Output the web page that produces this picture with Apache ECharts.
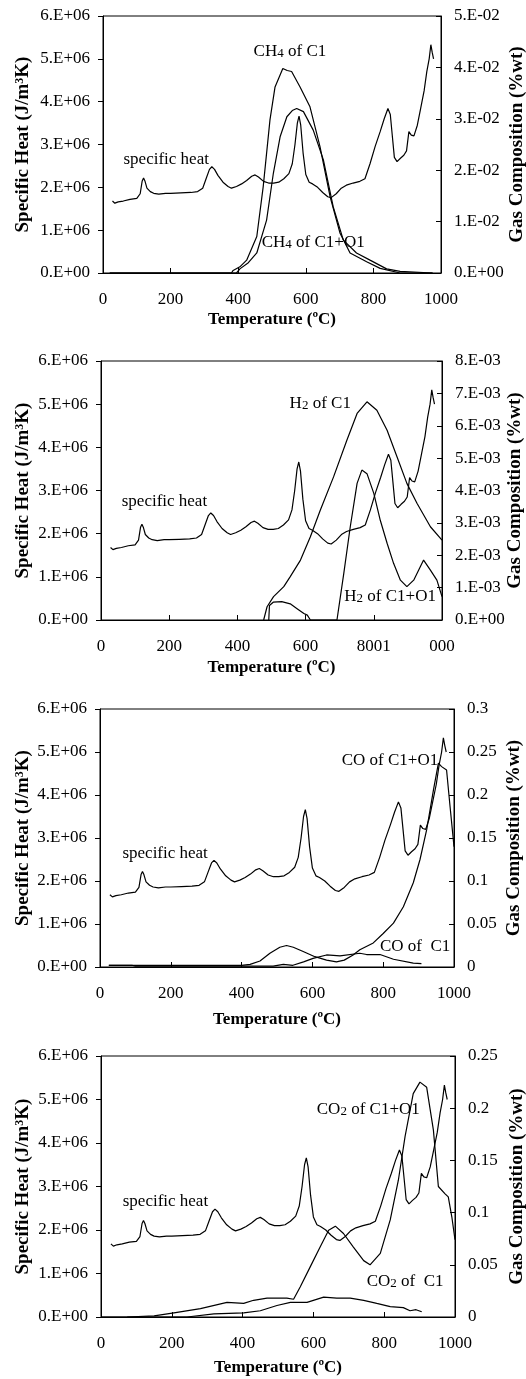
<!DOCTYPE html>
<html>
<head>
<meta charset="utf-8">
<script src="https://cdn.jsdelivr.net/npm/echarts@6/dist/echarts.min.js"></script>
<style>
html, body { margin: 0; background: #fff; }
#chart { width: 526px; height: 1379px; }
</style>
</head>
<body>
<div id="chart"></div>
<script>
// specific heat, same curve in all four panels (values in 1e6 J/m3K)
const shTemp = [28, 35, 45, 60, 80, 100, 110, 116, 120, 124, 130, 140, 150, 165, 185, 200, 230, 260, 280, 295, 305, 315, 322, 330, 340, 355, 370, 380, 395, 410, 425, 440, 450, 460, 475, 490, 505, 520, 535, 550, 560, 568, 575, 580, 585, 592, 600, 610, 620, 635, 650, 665, 675, 690, 705, 720, 740, 760, 775, 790, 805, 820, 832, 843, 850, 856, 862, 870, 880, 890, 898, 905, 912, 920, 930, 940, 950, 958, 965, 970, 974, 978];
const shValue = [1.68, 1.63, 1.66, 1.68, 1.72, 1.74, 1.85, 2.15, 2.22, 2.15, 1.98, 1.9, 1.86, 1.84, 1.86, 1.86, 1.87, 1.88, 1.9, 1.98, 2.2, 2.42, 2.48, 2.42, 2.28, 2.12, 2.02, 1.98, 2.02, 2.08, 2.16, 2.26, 2.29, 2.24, 2.14, 2.1, 2.1, 2.12, 2.2, 2.32, 2.55, 3.0, 3.5, 3.66, 3.45, 2.8, 2.3, 2.12, 2.08, 2.0, 1.88, 1.78, 1.76, 1.85, 1.98, 2.05, 2.1, 2.14, 2.2, 2.55, 2.95, 3.3, 3.6, 3.84, 3.7, 3.2, 2.7, 2.6, 2.68, 2.75, 2.85, 3.3, 3.22, 3.2, 3.45, 3.85, 4.25, 4.7, 5.0, 5.33, 5.15, 5.0];

// CH4 (values in 1e-2 %wt)
const ch4C1Temp = [20, 380, 385, 405, 425, 455, 474, 494, 509, 532, 545, 558, 583, 612, 642, 672, 701, 731, 780, 820, 879, 975];
const ch4C1 = [0, 0, 0.05, 0.12, 0.25, 0.71, 1.68, 2.98, 3.62, 3.98, 3.94, 3.92, 3.62, 3.24, 2.46, 1.48, 0.78, 0.39, 0.22, 0.09, 0, 0];
const ch4C1O1Temp = [20, 395, 405, 430, 455, 484, 504, 524, 544, 560, 573, 593, 622, 652, 681, 711, 750, 790, 839, 879, 975];
const ch4C1O1 = [0, 0, 0.08, 0.2, 0.39, 1.03, 1.94, 2.65, 3.04, 3.16, 3.2, 3.14, 2.78, 2.2, 1.29, 0.64, 0.39, 0.25, 0.08, 0.03, 0];

// H2 (values in 1e-3 %wt)
const h2C1Temp = [477, 487, 506, 536, 555, 585, 614, 643, 682, 721, 751, 780, 809, 839, 868, 897, 927, 966, 1000];
const h2C1 = [0, 0.41, 0.72, 1.03, 1.34, 1.85, 2.57, 3.39, 4.42, 5.55, 6.38, 6.74, 6.48, 5.86, 5.04, 4.22, 3.6, 2.88, 2.47];
const h2C1O1Temp = [492, 494, 505, 530, 555, 575, 595, 605, 614, 692, 712, 731, 751, 765, 780, 800, 819, 839, 858, 878, 897, 917, 946, 966, 985, 1000];
const h2C1O1 = [0, 0.45, 0.55, 0.57, 0.5, 0.35, 0.2, 0.15, 0, 0, 1.44, 2.88, 4.22, 4.63, 4.52, 3.91, 3.08, 2.37, 1.75, 1.23, 1.03, 1.23, 1.85, 1.54, 1.23, 0.72];

// CO (%wt)
const coC1O1Temp = [25, 400, 424, 452, 480, 508, 527, 546, 574, 607, 640, 668, 690, 715, 734, 772, 800, 829, 857, 885, 904, 923, 942, 956, 965, 979, 989, 1000];
const coC1O1 = [0.002, 0.002, 0.003, 0.007, 0.016, 0.023, 0.025, 0.023, 0.018, 0.012, 0.008, 0.006, 0.008, 0.014, 0.02, 0.028, 0.039, 0.051, 0.07, 0.098, 0.125, 0.16, 0.206, 0.237, 0.233, 0.229, 0.186, 0.14];
const coC1Temp = [25, 90, 100, 400, 489, 518, 545, 575, 602, 640, 678, 734, 753, 791, 829, 885, 908];
const coC1 = [0.002, 0.002, 0.001, 0.001, 0.001, 0.003, 0.002, 0.006, 0.01, 0.014, 0.013, 0.016, 0.0145, 0.0145, 0.009, 0.0045, 0.004];

// CO2 (%wt)
const co2C1O1Temp = [74, 150, 206, 281, 356, 403, 431, 469, 525, 544, 563, 591, 619, 643, 662, 685, 713, 742, 760, 789, 817, 840, 859, 882, 901, 920, 939, 953, 972, 981, 991, 1000];
const co2C1O1 = [0, 0.001, 0.004, 0.008, 0.014, 0.013, 0.016, 0.018, 0.018, 0.017, 0.029, 0.048, 0.067, 0.083, 0.087, 0.08, 0.067, 0.054, 0.05, 0.061, 0.093, 0.131, 0.173, 0.214, 0.225, 0.22, 0.179, 0.125, 0.118, 0.115, 0.096, 0.074];
const co2C1Temp = [0, 243, 319, 403, 450, 497, 535, 582, 629, 666, 704, 742, 779, 817, 854, 873, 890, 906];
const co2C1 = [0, 0, 0.003, 0.004, 0.006, 0.011, 0.014, 0.014, 0.019, 0.018, 0.018, 0.016, 0.013, 0.01, 0.009, 0.006, 0.007, 0.005];

// tick labels
const tempTicks = ['0', '200', '400', '600', '800', '1000'];
const tempTicksH2 = ['0', '200', '400', '600', '8001', '000'];
const shTicks = ['0.E+00', '1.E+06', '2.E+06', '3.E+06', '4.E+06', '5.E+06', '6.E+06'];
const ch4Ticks = ['0.E+00', '1.E-02', '2.E-02', '3.E-02', '4.E-02', '5.E-02'];
const h2Ticks = ['0.E+00', '1.E-03', '2.E-03', '3.E-03', '4.E-03', '5.E-03', '6.E-03', '7.E-03', '8.E-03'];
const coTicks = ['0', '0.05', '0.1', '0.15', '0.2', '0.25', '0.3'];
const co2Ticks = ['0', '0.05', '0.1', '0.15', '0.2', '0.25'];

const FONT = 'Liberation Serif';

function pairs(xs, ys, k) {
	return xs.map(function(x, i) { return [x, ys[i] * k]; });
}

const panels = [
	{
		grid: { left: 103, right: 85, top: 16, height: 257 },
		rightMax: 0.05, rightStep: 0.01, rightTicks: ch4Ticks, xTicks: tempTicks,
		leftGap: 70, rightGap: 67, xGap: 38,
		gas: [pairs(ch4C1Temp, ch4C1, 0.01), pairs(ch4C1O1Temp, ch4C1O1, 0.01)],
		notes: [
			{ coord: [553, 5.17e6], text: 'CH{sub|4} of C1' },
			{ coord: [187, 2.65e6], text: 'specific heat' },
			{ coord: [622, 0.7e6], text: 'CH{sub|4} of C1+O1' }
		]
	},
	{
		grid: { left: 101, right: 84, top: 361, height: 259 },
		rightMax: 0.008, rightStep: 0.001, rightTicks: h2Ticks, xTicks: tempTicksH2,
		leftGap: 68, rightGap: 64, xGap: 39,
		gas: [pairs(h2C1Temp, h2C1, 0.001), pairs(h2C1O1Temp, h2C1O1, 0.001)],
		notes: [
			{ coord: [643, 5.01e6], text: 'H{sub|2} of C1' },
			{ coord: [186, 2.74e6], text: 'specific heat' },
			{ coord: [848, 0.54e6], text: 'H{sub|2} of C1+O1' }
		]
	},
	{
		grid: { left: 100, right: 72, top: 709, height: 258 },
		rightMax: 0.3, rightStep: 0.05, rightTicks: coTicks, xTicks: tempTicks,
		leftGap: 67, rightGap: 51, xGap: 44,
		gas: [pairs(coC1O1Temp, coC1O1, 1), pairs(coC1Temp, coC1, 1)],
		notes: [
			{ coord: [819, 4.79e6], text: 'CO of C1+O1' },
			{ coord: [184, 2.63e6], text: 'specific heat' },
			{ coord: [890, 0.48e6], text: 'CO of  C1' }
		]
	},
	{
		grid: { left: 101, right: 71, top: 1056, height: 261 },
		rightMax: 0.25, rightStep: 0.05, rightTicks: co2Ticks, xTicks: tempTicks,
		leftGap: 68, rightGap: 53, xGap: 42,
		gas: [pairs(co2C1O1Temp, co2C1O1, 1), pairs(co2C1Temp, co2C1, 1)],
		notes: [
			{ coord: [755, 4.77e6], text: 'CO{sub|2} of C1+O1' },
			{ coord: [182, 2.66e6], text: 'specific heat' },
			{ coord: [859, 0.82e6], text: 'CO{sub|2} of  C1' }
		]
	}
];

const grids = [], xAxes = [], yAxes = [], series = [];
const specificHeat = shTemp.map(function(t, i) { return [t, shValue[i] * 1e6]; });

panels.forEach(function(p, n) {
	grids.push(Object.assign({
		show: true, borderColor: '#000', borderWidth: 1, backgroundColor: 'transparent',
		containLabel: false, outerBoundsMode: 'none'
	}, p.grid));
	xAxes.push({
		type: 'value', gridIndex: n, min: 0, max: 1000, interval: 200,
		name: 'Temperature (ºC)', nameLocation: 'middle', nameGap: p.xGap, nameMoveOverlap: false,
		nameTextStyle: { fontFamily: FONT, fontWeight: 'bold', fontSize: 17, color: '#000' },
		axisLine: { show: true, onZero: false, lineStyle: { color: '#000', width: 1 } },
		axisTick: { show: true, inside: true, length: 5, lineStyle: { color: '#000' } },
		axisLabel: {
			fontFamily: FONT, fontSize: 17, color: '#000', margin: 18,
			formatter: function(v) { return p.xTicks[Math.round(v / 200)]; }
		},
		splitLine: { show: false }
	});
	yAxes.push({
		type: 'value', gridIndex: n, position: 'left', min: 0, max: 6e6, interval: 1e6,
		name: 'Specific Heat (J/m{sup|3}K)', nameLocation: 'middle', nameGap: p.leftGap, nameRotate: 90,
		nameMoveOverlap: false,
		nameTextStyle: {
			fontFamily: FONT, fontWeight: 'bold', fontSize: 19, color: '#000',
			rich: { sup: { fontFamily: FONT, fontWeight: 'bold', fontSize: 12, verticalAlign: 'top', color: '#000' } }
		},
		axisLine: { show: true, onZero: false, lineStyle: { color: '#000', width: 1 } },
		axisTick: { show: true, inside: false, length: 5, lineStyle: { color: '#000' } },
		axisLabel: {
			fontFamily: FONT, fontSize: 17, color: '#000', margin: 13,
			formatter: function(v) { return shTicks[Math.round(v / 1e6)]; }
		},
		splitLine: { show: false }
	});
	yAxes.push({
		type: 'value', gridIndex: n, position: 'right', min: 0, max: p.rightMax, interval: p.rightStep,
		name: 'Gas Composition (%wt)', nameLocation: 'middle', nameGap: p.rightGap, nameRotate: 90,
		nameMoveOverlap: false,
		nameTextStyle: { fontFamily: FONT, fontWeight: 'bold', fontSize: 19, color: '#000' },
		axisLine: { show: true, onZero: false, lineStyle: { color: '#000', width: 1 } },
		axisTick: { show: true, inside: true, length: 5, lineStyle: { color: '#000' } },
		axisLabel: {
			fontFamily: FONT, fontSize: 17, color: '#000', margin: 13,
			formatter: function(v) { return p.rightTicks[Math.round(v / p.rightStep)]; }
		},
		splitLine: { show: false }
	});
	series.push({
		name: 'specific heat', type: 'line', xAxisIndex: n, yAxisIndex: 2 * n,
		data: specificHeat, showSymbol: false, lineStyle: { color: '#000', width: 1.2 },
		markPoint: {
			symbol: 'circle', symbolSize: 1, silent: true,
			itemStyle: { color: 'rgba(0,0,0,0)' },
			label: {
				show: true, position: 'inside', fontFamily: FONT, fontSize: 17, color: '#000',
				rich: { sub: { fontFamily: FONT, fontSize: 13, color: '#000', verticalAlign: 'bottom', padding: [4, 0, 0, 0] } }
			},
			data: p.notes.map(function(a) {
				return { coord: a.coord, label: { formatter: a.text } };
			})
		}
	});
	p.gas.forEach(function(g) {
		series.push({
			type: 'line', xAxisIndex: n, yAxisIndex: 2 * n + 1,
			data: g, showSymbol: false, lineStyle: { color: '#000', width: 1.2 }
		});
	});
});

const myChart = echarts.init(document.getElementById('chart'));
myChart.setOption({
	animation: false,
	backgroundColor: '#fff',
	grid: grids,
	xAxis: xAxes,
	yAxis: yAxes,
	series: series
});
</script>
</body>
</html>
